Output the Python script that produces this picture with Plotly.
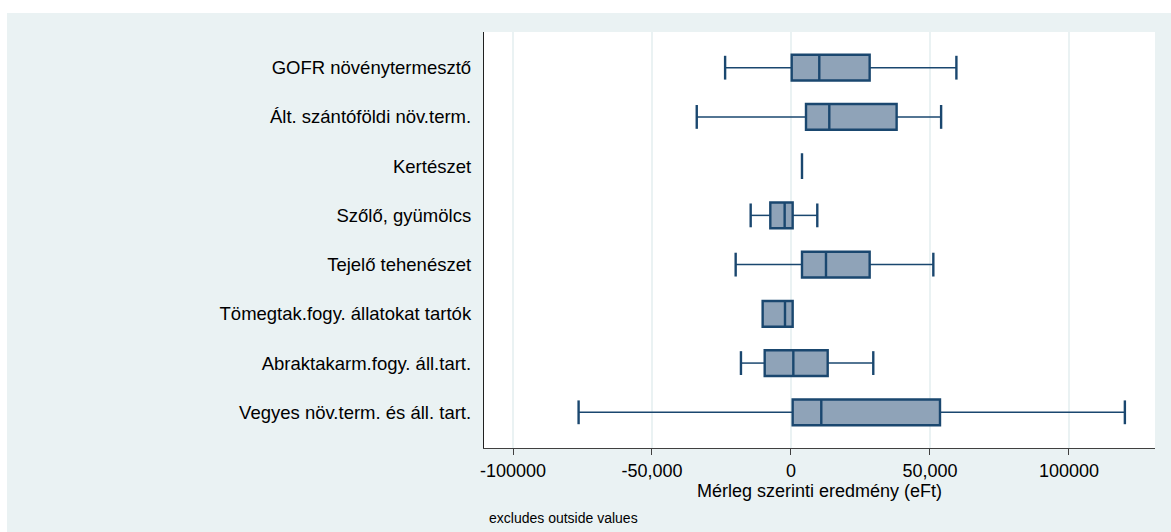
import plotly.graph_objects as go

# Farm types (top to bottom) and box-plot summaries of the balance result (eFt)
categories = [
    "GOFR növénytermesztő",
    "Ált. szántóföldi növ.term.",
    "Kertészet",
    "Szőlő, gyümölcs",
    "Tejelő tehenészet",
    "Tömegtak.fogy. állatokat tartók",
    "Abraktakarm.fogy. áll.tart.",
    "Vegyes növ.term. és áll. tart.",
]
lower_adj = [-23700, -33900, 3960, -14500, -19900, -10200, -18000, -76400]
q1 = [250, 5400, 3960, -7440, 3960, -10200, -9460, 600]
median = [10180, 13780, 3960, -2280, 12590, -2160, 840, 10900]
q3 = [28300, 38000, 3960, 600, 28300, 600, 13200, 53600]
upper_adj = [59500, 54000, 3960, 9460, 51200, 600, 29600, 120100]

tick_vals = [-100000, -50000, 0, 50000, 100000]
tick_text = ["-100000", "-50,000", "0", "50,000", "100000"]

W, H = 1171, 532
ML, MR, MT, MB = 484, 16, 32, 84
BG = "#eaf2f3"
NAVY = "#1a476f"
FILL = "#8fa3b8"
FONT = "Liberation Sans, Arial, sans-serif"

pos = list(range(len(categories)))

fig = go.Figure()

# whisker lines (lower adjacent -> q1, q3 -> upper adjacent)
wx, wy = [], []
cap_x, cap_y = [], []
for p, lo, a, b, hi in zip(pos, lower_adj, q1, q3, upper_adj):
    if lo < a:
        wx += [lo, a, None]
        wy += [p, p, None]
        cap_x.append(lo)
        cap_y.append(p)
    if hi > b:
        wx += [b, hi, None]
        wy += [p, p, None]
        cap_x.append(hi)
        cap_y.append(p)

fig.add_trace(go.Scatter(
    x=wx, y=wy, mode="lines",
    line=dict(color=NAVY, width=1.5),
    hoverinfo="skip", showlegend=False,
))
fig.add_trace(go.Scatter(
    x=cap_x, y=cap_y, mode="markers",
    marker=dict(symbol="line-ns", size=17, line=dict(color=NAVY, width=2.4)),
    hoverinfo="skip", showlegend=False,
))

# boxes (interquartile range with median)
fig.add_trace(go.Box(
    y=pos,
    q1=q1, median=median, q3=q3,
    lowerfence=q1, upperfence=q3,
    orientation="h",
    width=0.523,
    whiskerwidth=0,
    fillcolor=FILL,
    line=dict(color=NAVY, width=2.4),
    boxpoints=False,
    showlegend=False,
))

pw = W - ML - MR
ph = H - MT - MB


def px_x(x):
    return (x - ML) / pw


def px_y(y):
    return (H - MB - y) / ph


shapes = [
    # outer graph region
    dict(type="rect", xref="paper", yref="paper", layer="below",
         x0=px_x(7), x1=px_x(W + 5), y0=px_y(H + 5), y1=px_y(13),
         fillcolor=BG, line=dict(width=0)),
    # plot region
    dict(type="rect", xref="paper", yref="paper", layer="below",
         x0=0, x1=1, y0=0, y1=1, fillcolor="white", line=dict(width=0)),
]

fig.update_layout(
    width=W, height=H,
    margin=dict(l=ML, r=MR, t=MT, b=MB, pad=0),
    paper_bgcolor="white",
    plot_bgcolor="white",
    font=dict(family=FONT, size=18, color="#000000"),
    shapes=shapes,
    xaxis=dict(
        range=[-110430, 130940],
        tickvals=tick_vals, ticktext=tick_text,
        showgrid=True, gridcolor=BG, gridwidth=2,
        zeroline=False,
        showline=True, linecolor="#404040", linewidth=1.3,
        ticks="outside", ticklen=6, tickcolor="#404040", tickwidth=1,
        tickfont=dict(size=18),
        title=dict(text="Mérleg szerinti eredmény (eFt)", font=dict(size=18), standoff=0),
    ),
    yaxis=dict(
        range=[7.725, -0.725],
        tickvals=pos, ticktext=categories,
        showgrid=False, zeroline=False,
        showline=True, linecolor="#202020", linewidth=1.3,
        ticks="", ticklabelstandoff=8,
        tickfont=dict(size=18.5),
    ),
    annotations=[
        dict(text="excludes outside values", xref="paper", yref="paper",
             x=px_x(487), y=px_y(517.5), xanchor="left", yanchor="middle",
             showarrow=False, font=dict(size=14)),
    ],
)

fig.write_html("out.html")
